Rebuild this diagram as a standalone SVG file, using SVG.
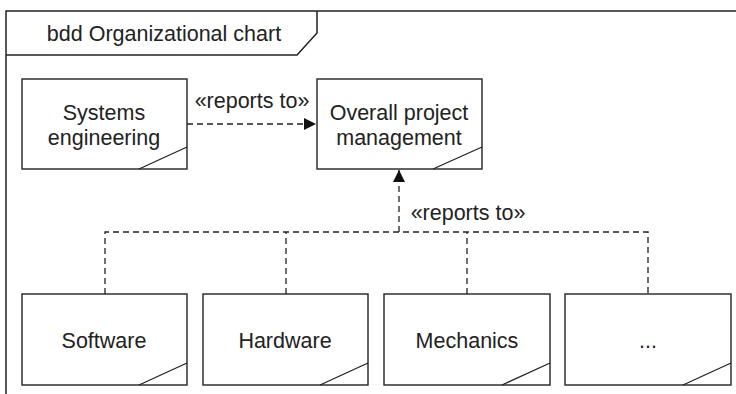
<svg xmlns="http://www.w3.org/2000/svg" width="736" height="394" viewBox="0 0 736 394">
<style>
.frame{fill:none;stroke:#222;stroke-width:1.5}
.box{fill:#fff;stroke:#222;stroke-width:1.4}
.crn{fill:none;stroke:#222;stroke-width:1.3}
.dash{fill:none;stroke:#222;stroke-width:1.3;stroke-dasharray:6 4}
text{font-family:"Liberation Sans",Arial,sans-serif;font-size:21.5px;fill:#222;text-anchor:middle}
</style>
<defs>
<marker id="arr" markerWidth="12" markerHeight="12" viewBox="0 0 12 12" refX="12" refY="6" orient="auto" markerUnits="userSpaceOnUse">
<path d="M0,0 L12,6 L0,12 Z" fill="#111"/>
</marker>
</defs>
<g id="frame">
<path class="frame" d="M6,394 V11 H736"/>
<path class="frame" d="M6,55 H297 L317,33 V11"/>
<text x="164" y="41">bdd Organizational chart</text>
</g>
<g id="connectors">
<path class="dash" d="M187,124 H316" marker-end="url(#arr)"/>
<text x="252" y="108">«reports to»</text>
<path class="dash" d="M399,232 V170" marker-end="url(#arr)"/>
<text x="468" y="220">«reports to»</text>
<path class="dash" d="M105,294 V232 H648 V294"/>
<path class="dash" d="M286,294 V232"/>
<path class="dash" d="M467,294 V232"/>
</g>
<g id="systems-engineering">
<rect class="box" x="22" y="79" width="165" height="90"/>
<path class="crn" d="M187,147 L139,169"/>
<text x="104" y="120">Systems</text>
<text x="104" y="145">engineering</text>
</g>
<g id="overall-project-management">
<rect class="box" x="317" y="79" width="165" height="90"/>
<path class="crn" d="M482,147 L433,169"/>
<text x="399" y="120">Overall project</text>
<text x="399" y="145">management</text>
</g>
<g id="software">
<rect class="box" x="22" y="294" width="165" height="91"/>
<path class="crn" d="M187,363 L139,385"/>
<text x="104" y="348">Software</text>
</g>
<g id="hardware">
<rect class="box" x="203" y="294" width="165" height="91"/>
<path class="crn" d="M368,363 L320,385"/>
<text x="285" y="348">Hardware</text>
</g>
<g id="mechanics">
<rect class="box" x="384" y="294" width="166" height="91"/>
<path class="crn" d="M550,363 L502,385"/>
<text x="467" y="348">Mechanics</text>
</g>
<g id="more">
<rect class="box" x="565" y="294" width="166" height="91"/>
<path class="crn" d="M731,363 L683,385"/>
<text x="648" y="348">...</text>
</g>
</svg>
